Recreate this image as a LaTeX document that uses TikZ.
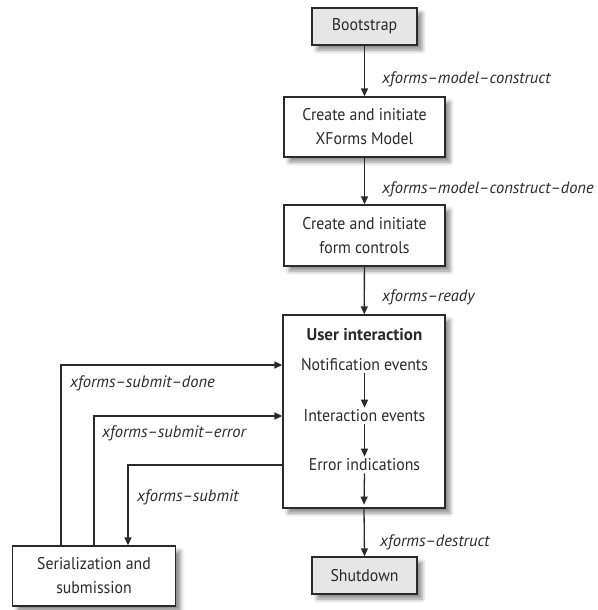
\documentclass[tikz,border=0pt]{standalone}
\usepackage{fontspec}
\setmainfont{PT Sans}[FakeStretch=0.93, Ligatures=TeX]
\newfontfamily\titlefont{PT Sans Bold}[FakeStretch=1.0, Ligatures=TeX]
\newfontfamily\evtfont{PT Sans Italic}[FakeStretch=1.0, Ligatures=TeX]
\usetikzlibrary{arrows.meta,shadows.blur}
\definecolor{ink}{HTML}{2A2A2A}
\definecolor{boxgray}{HTML}{E6E6E6}
\begin{document}
\begin{tikzpicture}[x=1pt,y=-1pt,
  every node/.style={text=ink},
  stage/.style={draw=ink, line width=1.3pt, fill=white, align=center,
    font=\fontsize{17}{24}\selectfont, inner sep=0pt,
    blur shadow={shadow xshift=5pt, shadow yshift=-5pt, shadow blur radius=4pt, shadow opacity=45}},
  endpoint/.style={stage, fill=boxgray},
  item/.style={font=\fontsize{17}{24}\selectfont, inner sep=1pt},
  evt/.style={font=\evtfont\fontsize{16.5}{20}\selectfont, anchor=west, inner sep=0pt},
  arr/.style={draw=ink, line width=1.3pt, -{Triangle[length=8pt,width=7pt]}}]
\useasboundingbox (0,0) rectangle (597,610);

% stages of the form lifecycle
\node[endpoint, minimum width=105pt, minimum height=37pt] (boot) at (364.5,26.5) {Bootstrap};
\node[stage, minimum width=161pt, minimum height=60pt] (model) at (364.5,127) {Create and initiate\\XForms Model};
\node[stage, minimum width=161pt, minimum height=61pt] (controls) at (364.5,235.5) {Create and initiate\\form controls};
\node[stage, minimum width=162pt, minimum height=193pt] (user) at (364,411.5) {};
\node[endpoint, minimum width=105pt, minimum height=37pt] (shut) at (364.5,575.5) {Shutdown};
\node[stage, minimum width=163pt, minimum height=60pt] (serial) at (94,576) {Serialization and\\submission};

% contents of the interaction stage
\node[item, font=\titlefont\fontsize{17}{24}\selectfont] (title) at (364.5,335) {User interaction};
\node[item] (notif) at (364.5,365) {Notification events};
\node[item] (inter) at (364.5,416) {Interaction events};
\node[item] (err) at (364.5,465) {Error indications};

% main flow
\draw[arr] (boot) -- (model);
\draw[arr] (model) -- (controls);
\draw[arr] (controls) -- (user);
\draw[arr] ([yshift=-1pt]notif.south) -- ([yshift=1pt]inter.north);
\draw[arr] ([yshift=-1pt]inter.south) -- ([yshift=1pt]err.north);
\draw[arr] ([yshift=-1pt]err.south) -- ([yshift=4pt]user.south);
\draw[arr] (user.south) -- (shut.north);

% submission loop
\draw[arr] (user.west |- err) -| ([xshift=34pt]serial.north);
\draw[arr] ([xshift=-33pt]serial.north) |- (user.west |- notif);
\draw[arr] (serial.north) |- (user.west |- inter);

% event labels
\node[evt] at (382,79) {xforms--model--construct};
\node[evt] at (382,189) {xforms--model--construct--done};
\node[evt] at (382,297) {xforms--ready};
\node[evt] at (70,383) {xforms--submit--done};
\node[evt] at (102,433) {xforms--submit--error};
\node[evt] at (137,497) {xforms--submit};
\node[evt] at (380,542) {xforms--destruct};
\end{tikzpicture}
\end{document}
